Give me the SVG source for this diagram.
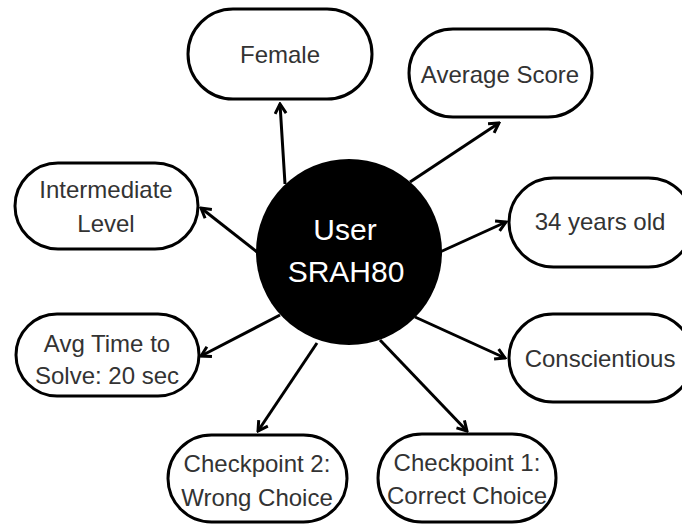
<svg xmlns="http://www.w3.org/2000/svg" width="682" height="525" viewBox="0 0 682 525">
<defs>
<style>
.node rect{fill:#fff;stroke:#000;stroke-width:3}
.node text{font-family:"Liberation Sans",Arial,sans-serif;font-size:24px;fill:#333;text-anchor:middle}
.center text{font-family:"Liberation Sans",Arial,sans-serif;font-size:30px;fill:#fff;text-anchor:middle}
.edges line{stroke:#000;stroke-width:3;marker-end:url(#arr)}
</style>
<marker id="arr" viewBox="0 0 14 14" refX="12" refY="7" markerWidth="14" markerHeight="14" markerUnits="userSpaceOnUse" orient="auto">
<path d="M2.5,1.5 L12,7 L2.5,12.5" fill="none" stroke="#000" stroke-width="3"/>
</marker>
</defs>
<rect width="682" height="525" fill="#fff"/>
<g class="edges" id="connectors">
<line x1="285" y1="184" x2="280" y2="104"/>
<line x1="410" y1="182" x2="499" y2="123"/>
<line x1="440" y1="252" x2="506" y2="222"/>
<line x1="415" y1="317" x2="505" y2="358"/>
<line x1="380" y1="340" x2="467" y2="431"/>
<line x1="317" y1="343" x2="258" y2="431"/>
<line x1="280" y1="315" x2="201" y2="356"/>
<line x1="257" y1="252" x2="201" y2="208"/>
</g>
<g class="center" id="user">
<circle cx="349" cy="252" r="93" fill="#000"/>
<text x="345" y="240">User</text>
<text x="346" y="282">SRAH80</text>
</g>
<g class="node" id="female">
<rect x="188" y="9" width="184" height="90" rx="45"/>
<text x="280" y="63">Female</text>
</g>
<g class="node" id="avgscore">
<rect x="409" y="29" width="183" height="88" rx="44"/>
<text x="500" y="83">Average Score</text>
</g>
<g class="node" id="age">
<rect x="509" y="178" width="184" height="89" rx="44.5"/>
<text x="600" y="230">34 years old</text>
</g>
<g class="node" id="consc">
<rect x="509" y="314" width="184" height="88" rx="44"/>
<text x="600" y="367">Conscientious</text>
</g>
<g class="node" id="cp1">
<rect x="378" y="434" width="178" height="88" rx="44"/>
<text x="467" y="471">Checkpoint 1:</text>
<text x="467" y="504">Correct Choice</text>
</g>
<g class="node" id="cp2">
<rect x="168" y="435" width="179" height="87" rx="43.5"/>
<text x="257" y="472">Checkpoint 2:</text>
<text x="257" y="506">Wrong Choice</text>
</g>
<g class="node" id="avgtime">
<rect x="16" y="314" width="183" height="82" rx="41"/>
<text x="107" y="352">Avg Time to</text>
<text x="107" y="384">Solve: 20 sec</text>
</g>
<g class="node" id="level">
<rect x="15" y="163" width="183" height="86" rx="43"/>
<text x="106" y="198">Intermediate</text>
<text x="106" y="232">Level</text>
</g>
</svg>
